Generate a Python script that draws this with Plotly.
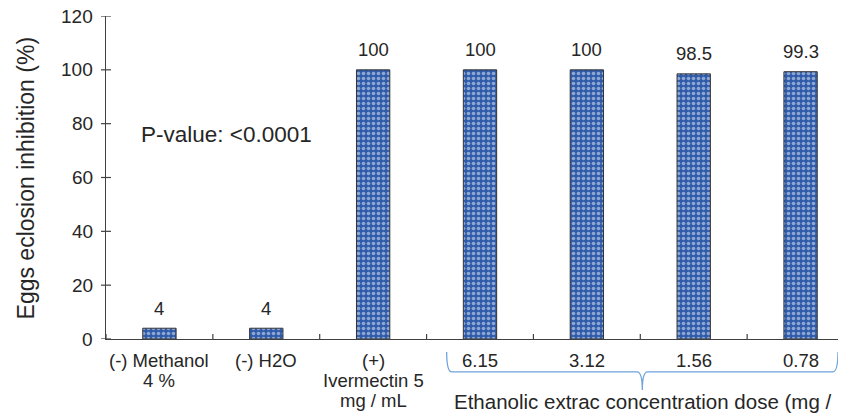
import plotly.graph_objects as go

categories = ["(-) Methanol\n4 %", "(-) H2O", "(+)\nIvermectin 5\nmg / mL",
              "6.15", "3.12", "1.56", "0.78"]
values = [4, 4, 100, 100, 100, 98.5, 99.3]
value_labels = ["4", "4", "100", "100", "100", "98.5", "99.3"]
y_ticks = [0, 20, 40, 60, 80, 100, 120]

FONT = "Liberation Sans, Arial, sans-serif"
TXT = "#262626"
AX = "#404040"
BLUE = "#2F5BAA"
BRACE = "#6FA3DA"

n = len(categories)
xs = list(range(n))
xr = [-0.5, n - 0.5]
boundaries = [i - 0.5 for i in range(n)]

fig = go.Figure()
fig.add_trace(go.Bar(
    x=xs, y=values, width=0.312,
    marker=dict(color=BLUE, line=dict(color="#333333", width=1),
                pattern=dict(shape=".", fgcolor="#f0f4fb", bgcolor=BLUE,
                             size=5, solidity=0.4)),
    showlegend=False, hoverinfo="skip",
))

fig.update_layout(
    width=846, height=416,
    margin=dict(l=98, r=0, t=8, b=85),
    paper_bgcolor="white", plot_bgcolor="white",
    xaxis=dict(range=xr, showticklabels=False, ticks="",
               showline=True, linecolor=AX, linewidth=1,
               showgrid=False, zeroline=False),
    yaxis=dict(range=[0, 120], showticklabels=False, ticks="",
               showline=True, linecolor=AX, linewidth=1,
               showgrid=False, zeroline=False),
)

# crossing tick marks (pixel-sized, placed at data positions)
for b in boundaries:
    fig.add_shape(type="line", xref="x", x0=b, x1=b, yref="y", ysizemode="pixel",
                  yanchor=0, y0=-5, y1=5, line=dict(color=AX, width=1.2))
for t in y_ticks:
    fig.add_shape(type="line", yref="y", y0=t, y1=t, xref="paper", xsizemode="pixel",
                  xanchor=0, x0=-5, x1=5, line=dict(color=AX, width=1.2))

# y tick labels
for t in y_ticks:
    fig.add_annotation(text=str(t), x=0, y=t, xref="paper", yref="y",
                       showarrow=False, xanchor="right", yanchor="middle",
                       xshift=-11, font=dict(family=FONT, size=19, color=TXT))

# y-axis title
fig.add_annotation(text="Eggs eclosion inhibition (%)", textangle=-90,
                   x=-0.107, y=0.5, xref="paper", yref="paper", showarrow=False,
                   xanchor="center", yanchor="middle",
                   font=dict(family=FONT, size=23, color=TXT))

# value labels
for i, (v, lab) in enumerate(zip(values, value_labels)):
    fig.add_annotation(text=lab, x=i, y=v, xref="x", yref="y", showarrow=False,
                       yanchor="middle", yshift=20,
                       font=dict(family=FONT, size=18.5, color=TXT))

# category labels (line by line for tight line spacing)
for i, cat in enumerate(categories):
    for j, line in enumerate(cat.split("\n")):
        fig.add_annotation(text=line, x=i, y=0, xref="x", yref="y", showarrow=False,
                           yanchor="middle", yshift=-21 - 20 * j,
                           font=dict(family=FONT, size=18.5, color=TXT))

fig.add_annotation(text="P-value: <0.0001", x=-0.19, y=75.8, xref="x", yref="y",
                   xanchor="left", yanchor="middle", showarrow=False,
                   font=dict(family=FONT, size=22.5, color=TXT))

# curly brace under the extract doses
x0, x1 = 2.688, 6.35
xm = (x0 + x1) / 2
yt, ym, yb = -0.040, -0.102, -0.158
d = 0.05
path = (f"M {x0},{yt} Q {x0},{ym} {x0+d},{ym} L {xm-d},{ym} Q {xm},{ym} {xm},{yb} "
        f"Q {xm},{ym} {xm+d},{ym} L {x1-d},{ym} Q {x1},{ym} {x1},{yt}")
fig.add_shape(type="path", path=path, xref="x", yref="paper",
              line=dict(color=BRACE, width=1.3))
fig.add_annotation(text="Ethanolic extrac concentration dose (mg /", x=xm, y=-0.192,
                   xref="x", yref="paper", showarrow=False, yanchor="middle",
                   font=dict(family=FONT, size=20.5, color=TXT))

fig.write_html("out.html")
